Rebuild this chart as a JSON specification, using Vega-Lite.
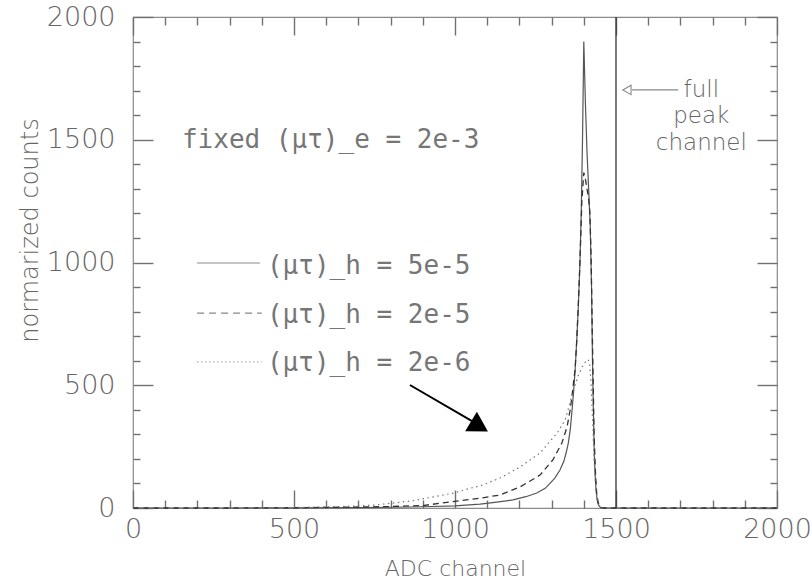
{
  "$schema": "https://vega.github.io/schema/vega-lite/v6.json",
  "width": 644,
  "height": 491,
  "autosize": "none",
  "padding": {"left": 133, "top": 17, "right": 33, "bottom": 72},
  "background": "#ffffff",
  "config": {
    "view": {"stroke": "#8a8a8a", "strokeWidth": 1.2},
    "font": "DejaVu Sans",
    "axis": {"labelFont": "DejaVu Sans", "titleFont": "DejaVu Sans", "labelColor": "#666666", "titleColor": "#666666", "grid": false, "domain": false, "labelFlush": false, "labelOverlap": false, "labelBound": false, "tickColor": "#707070", "tickWidth": 1.4, "tickOpacity": 1, "format": "d"}
  },
  "datasets": {
    "solid": [
      {"x": 0, "y": 0}, {"x": 300, "y": 0}, {"x": 500, "y": 0.5}, {"x": 700, "y": 1.5}, {"x": 800, "y": 3}, {"x": 900, "y": 5}, {"x": 1000, "y": 9}, {"x": 1078, "y": 16}, {"x": 1130, "y": 24}, {"x": 1180, "y": 33}, {"x": 1220, "y": 46}, {"x": 1254, "y": 61}, {"x": 1280, "y": 80}, {"x": 1295, "y": 100}, {"x": 1310, "y": 122}, {"x": 1326, "y": 155}, {"x": 1338, "y": 190}, {"x": 1345, "y": 224}, {"x": 1352, "y": 265}, {"x": 1358, "y": 320}, {"x": 1363, "y": 390}, {"x": 1368, "y": 470}, {"x": 1373, "y": 560}, {"x": 1378, "y": 680}, {"x": 1383, "y": 820}, {"x": 1388, "y": 1000}, {"x": 1392, "y": 1200}, {"x": 1396, "y": 1500}, {"x": 1400, "y": 1900}, {"x": 1405, "y": 1650}, {"x": 1410, "y": 1450}, {"x": 1415, "y": 1300}, {"x": 1420, "y": 1150}, {"x": 1424, "y": 900}, {"x": 1427, "y": 600}, {"x": 1430, "y": 380}, {"x": 1433, "y": 200}, {"x": 1437, "y": 90}, {"x": 1441, "y": 35}, {"x": 1446, "y": 10}, {"x": 1452, "y": 2}, {"x": 1458, "y": 0}, {"x": 2000, "y": 0}
    ],
    "dashed": [
      {"x": 0, "y": 0}, {"x": 300, "y": 0}, {"x": 500, "y": 1}, {"x": 700, "y": 4}, {"x": 800, "y": 6}, {"x": 900, "y": 10}, {"x": 1000, "y": 27}, {"x": 1078, "y": 40}, {"x": 1140, "y": 53}, {"x": 1202, "y": 86}, {"x": 1264, "y": 134}, {"x": 1304, "y": 196}, {"x": 1332, "y": 265}, {"x": 1348, "y": 330}, {"x": 1357, "y": 395}, {"x": 1363, "y": 450}, {"x": 1368, "y": 510}, {"x": 1373, "y": 565}, {"x": 1378, "y": 680}, {"x": 1383, "y": 830}, {"x": 1388, "y": 1000}, {"x": 1394, "y": 1250}, {"x": 1400, "y": 1366}, {"x": 1405, "y": 1340}, {"x": 1410, "y": 1300}, {"x": 1415, "y": 1260}, {"x": 1419, "y": 1200}, {"x": 1423, "y": 1000}, {"x": 1426, "y": 750}, {"x": 1429, "y": 520}, {"x": 1432, "y": 300}, {"x": 1436, "y": 150}, {"x": 1440, "y": 60}, {"x": 1445, "y": 20}, {"x": 1450, "y": 5}, {"x": 1456, "y": 0}, {"x": 2000, "y": 0}
    ],
    "dotted": [
      {"x": 0, "y": 0}, {"x": 500, "y": 2}, {"x": 650, "y": 6}, {"x": 750, "y": 12}, {"x": 807, "y": 20}, {"x": 870, "y": 30}, {"x": 932, "y": 45}, {"x": 1000, "y": 62}, {"x": 1037, "y": 77}, {"x": 1078, "y": 90}, {"x": 1140, "y": 122}, {"x": 1202, "y": 167}, {"x": 1264, "y": 224}, {"x": 1317, "y": 305}, {"x": 1342, "y": 358}, {"x": 1357, "y": 428}, {"x": 1370, "y": 490}, {"x": 1383, "y": 540}, {"x": 1395, "y": 575}, {"x": 1405, "y": 595}, {"x": 1413, "y": 605}, {"x": 1418, "y": 590}, {"x": 1422, "y": 520}, {"x": 1426, "y": 400}, {"x": 1430, "y": 260}, {"x": 1434, "y": 140}, {"x": 1438, "y": 70}, {"x": 1443, "y": 25}, {"x": 1448, "y": 8}, {"x": 1454, "y": 0}, {"x": 2000, "y": 0}
    ],
    "legend": [
      {"x": 199, "y": 998, "s": "5e-5"}, {"x": 394, "y": 998, "s": "5e-5"},
      {"x": 199, "y": 794, "s": "2e-5"}, {"x": 400, "y": 794, "s": "2e-5"},
      {"x": 199, "y": 595, "s": "2e-6"}, {"x": 400, "y": 595, "s": "2e-6"}
    ],
    "notes": [
      {"x": 152, "y": 1500, "label": "fixed (μτ)_e = 2e-3"},
      {"x": 416, "y": 985, "label": "(μτ)_h = 5e-5"},
      {"x": 416, "y": 788, "label": "(μτ)_h = 2e-5"},
      {"x": 416, "y": 591, "label": "(μτ)_h = 2e-6"}
    ],
    "peaknote": [
      {"x": 1765, "y": 1703, "label": "full"},
      {"x": 1765, "y": 1595, "label": "peak"},
      {"x": 1765, "y": 1487, "label": "channel"}
    ],
    "peakarrow": [{"x": 1550, "y": 1703}, {"x": 1693, "y": 1703}],
    "peakhead": [{"x": 1534, "y": 1703}],
    "bigarrow": [{"x": 860, "y": 501}, {"x": 1053, "y": 354}],
    "bighead": [{"x": 1076, "y": 332}],
    "fullpeak": [{"x": 1500}]
  },
  "resolve": {"scale": {"x": "independent", "y": "independent"}, "axis": {"x": "independent", "y": "independent"}},
  "layer": [
    {
      "data": {"name": "solid"},
      "mark": {"type": "line", "color": "#555555", "strokeWidth": 1.2},
      "encoding": {
        "x": {"field": "x", "type": "quantitative", "scale": {"domain": [0, 2000], "nice": false, "zero": false},
          "axis": {"orient": "bottom", "values": [0, 100, 200, 300, 400, 500, 600, 700, 800, 900, 1000, 1100, 1200, 1300, 1400, 1500, 1600, 1700, 1800, 1900, 2000], "labelExpr": "datum.value % 500 === 0 ? datum.label : ''", "ticks": true, "tickColor": "#707070", "tickWidth": 1.4, "tickSize": {"condition": {"test": "datum.value % 500 === 0", "value": -18}, "value": -8}, "labelPadding": 26, "labelFontSize": 27, "labelFontWeight": 300, "title": "ADC channel", "titleFontSize": 22, "titleFontWeight": 300, "titlePadding": 6}},
        "y": {"field": "y", "type": "quantitative", "scale": {"domain": [0, 2000], "nice": false, "zero": false},
          "axis": {"orient": "left", "values": [0, 100, 200, 300, 400, 500, 600, 700, 800, 900, 1000, 1100, 1200, 1300, 1400, 1500, 1600, 1700, 1800, 1900, 2000], "labelExpr": "datum.value % 500 === 0 ? datum.label : ''", "ticks": true, "tickColor": "#707070", "tickWidth": 1.4, "tickSize": {"condition": {"test": "datum.value % 500 === 0", "value": -20}, "value": -7}, "labelPadding": 38, "labelFontSize": 27, "labelFontWeight": 300, "title": "normarized counts", "titleFontSize": 24, "titleFontWeight": 300, "titlePadding": 4, "titleY": 213}}
      }
    },
    {
      "data": {"name": "dashed"},
      "mark": {"type": "line", "color": "#333333", "strokeWidth": 1.3, "strokeDash": [6, 4]},
      "encoding": {
        "x": {"field": "x", "type": "quantitative", "scale": {"domain": [0, 2000], "nice": false, "zero": false},
          "axis": {"orient": "top", "values": [0, 100, 200, 300, 400, 500, 600, 700, 800, 900, 1000, 1100, 1200, 1300, 1400, 1500, 1600, 1700, 1800, 1900, 2000], "labelExpr": "''", "ticks": true, "tickColor": "#707070", "tickWidth": 1.4, "tickSize": {"condition": {"test": "datum.value % 500 === 0", "value": -18}, "value": -8}, "title": ""}},
        "y": {"field": "y", "type": "quantitative", "scale": {"domain": [0, 2000], "nice": false, "zero": false},
          "axis": {"orient": "right", "values": [0, 100, 200, 300, 400, 500, 600, 700, 800, 900, 1000, 1100, 1200, 1300, 1400, 1500, 1600, 1700, 1800, 1900, 2000], "labelExpr": "''", "ticks": true, "tickColor": "#707070", "tickWidth": 1.4, "tickSize": {"condition": {"test": "datum.value % 500 === 0", "value": -20}, "value": -7}, "title": ""}}
      }
    },
    {
      "data": {"name": "dotted"},
      "mark": {"type": "line", "color": "#777777", "strokeWidth": 1.2, "strokeDash": [1.5, 3.5]},
      "encoding": {
        "x": {"field": "x", "type": "quantitative", "scale": {"domain": [0, 2000], "nice": false, "zero": false}, "axis": null},
        "y": {"field": "y", "type": "quantitative", "scale": {"domain": [0, 2000], "nice": false, "zero": false}, "axis": null}
      }
    },
    {
      "data": {"name": "legend"},
      "mark": {"type": "line", "strokeWidth": 1.2},
      "encoding": {
        "x": {"field": "x", "type": "quantitative", "scale": {"domain": [0, 2000], "nice": false, "zero": false}, "axis": null},
        "y": {"field": "y", "type": "quantitative", "scale": {"domain": [0, 2000], "nice": false, "zero": false}, "axis": null},
        "detail": {"field": "s"},
        "color": {"field": "s", "type": "nominal", "scale": {"domain": ["5e-5", "2e-5", "2e-6"], "range": ["#888888", "#888888", "#aaaaaa"]}, "legend": null},
        "strokeDash": {"field": "s", "type": "nominal", "scale": {"domain": ["5e-5", "2e-5", "2e-6"], "range": [[1, 0], [7, 5], [1.5, 2.5]]}, "legend": null}
      }
    },
    {
      "data": {"name": "bigarrow"},
      "mark": {"type": "line", "color": "#000000", "strokeWidth": 2},
      "encoding": {
        "x": {"field": "x", "type": "quantitative", "scale": {"domain": [0, 2000], "nice": false, "zero": false}, "axis": null},
        "y": {"field": "y", "type": "quantitative", "scale": {"domain": [0, 2000], "nice": false, "zero": false}, "axis": null}
      }
    },
    {
      "data": {"name": "bighead"},
      "mark": {"type": "point", "shape": "triangle-right", "angle": 31, "size": 520, "filled": true, "color": "#000000", "opacity": 1},
      "encoding": {
        "x": {"field": "x", "type": "quantitative", "scale": {"domain": [0, 2000], "nice": false, "zero": false}, "axis": null},
        "y": {"field": "y", "type": "quantitative", "scale": {"domain": [0, 2000], "nice": false, "zero": false}, "axis": null}
      }
    },
    {
      "data": {"name": "fullpeak"},
      "mark": {"type": "rule", "color": "#333333", "strokeWidth": 1.3},
      "encoding": {
        "x": {"field": "x", "type": "quantitative", "scale": {"domain": [0, 2000], "nice": false, "zero": false}, "axis": null}
      }
    },
    {
      "data": {"name": "peakarrow"},
      "mark": {"type": "line", "color": "#888888", "strokeWidth": 1.2},
      "encoding": {
        "x": {"field": "x", "type": "quantitative", "scale": {"domain": [0, 2000], "nice": false, "zero": false}, "axis": null},
        "y": {"field": "y", "type": "quantitative", "scale": {"domain": [0, 2000], "nice": false, "zero": false}, "axis": null}
      }
    },
    {
      "data": {"name": "peakhead"},
      "mark": {"type": "point", "shape": "triangle-left", "size": 90, "filled": false, "color": "#888888", "strokeWidth": 1.1, "opacity": 1},
      "encoding": {
        "x": {"field": "x", "type": "quantitative", "scale": {"domain": [0, 2000], "nice": false, "zero": false}, "axis": null},
        "y": {"field": "y", "type": "quantitative", "scale": {"domain": [0, 2000], "nice": false, "zero": false}, "axis": null}
      }
    },
    {
      "data": {"name": "notes"},
      "mark": {"type": "text", "align": "left", "baseline": "middle", "fontSize": 26, "font": "DejaVu Sans Mono", "color": "#767676"},
      "encoding": {
        "x": {"field": "x", "type": "quantitative", "scale": {"domain": [0, 2000], "nice": false, "zero": false}, "axis": null},
        "y": {"field": "y", "type": "quantitative", "scale": {"domain": [0, 2000], "nice": false, "zero": false}, "axis": null},
        "text": {"field": "label"}
      }
    },
    {
      "data": {"name": "peaknote"},
      "mark": {"type": "text", "align": "center", "baseline": "middle", "fontSize": 23, "fontWeight": 300, "font": "DejaVu Sans", "color": "#666666"},
      "encoding": {
        "x": {"field": "x", "type": "quantitative", "scale": {"domain": [0, 2000], "nice": false, "zero": false}, "axis": null},
        "y": {"field": "y", "type": "quantitative", "scale": {"domain": [0, 2000], "nice": false, "zero": false}, "axis": null},
        "text": {"field": "label"}
      }
    }
  ]
}
